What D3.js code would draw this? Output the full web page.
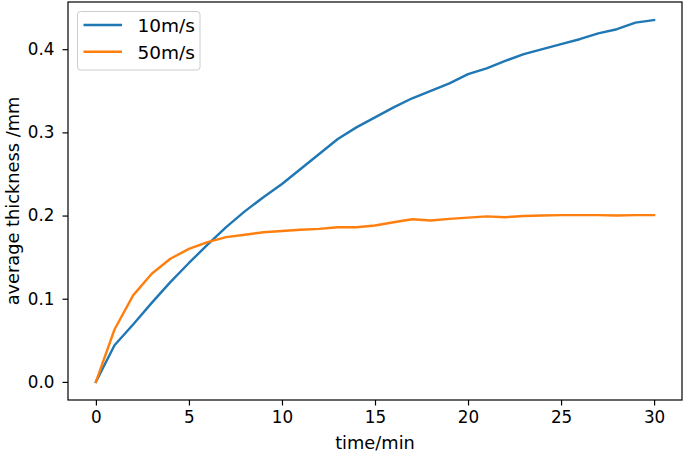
<!DOCTYPE html>
<html><head><meta charset="utf-8">
<script src="https://cdn.jsdelivr.net/npm/d3@7"></script>
<style>body{margin:0;background:#fff}svg{display:block}text{font-family:"DejaVu Sans",sans-serif}</style>
</head><body>
<svg id="c" width="685" height="455"></svg>
<script>
const time = d3.range(0, 31);
const v10 = [0, 0.044, 0.069, 0.095, 0.120, 0.143, 0.165, 0.186, 0.205, 0.222, 0.238, 0.256, 0.274, 0.292, 0.306, 0.318, 0.330, 0.341, 0.350, 0.359, 0.370, 0.377, 0.386, 0.394, 0.400, 0.406, 0.412, 0.419, 0.424, 0.432, 0.435];
const v50 = [0, 0.063, 0.104, 0.130, 0.148, 0.160, 0.168, 0.174, 0.177, 0.180, 0.1815, 0.183, 0.184, 0.186, 0.186, 0.188, 0.192, 0.1955, 0.194, 0.196, 0.1975, 0.199, 0.198, 0.1995, 0.2, 0.2005, 0.2005, 0.2005, 0.2, 0.2005, 0.2005];
const seriesNames = ["10m/s", "50m/s"];
const colors = ["#1f77b4", "#ff7f0e"];
const xTicks = [0, 5, 10, 15, 20, 25, 30];
const yTicks = [0.0, 0.1, 0.2, 0.3, 0.4];
const xLabel = "time/min";
const yLabel = "average thickness /mm";

const svg = d3.select("#c");
const L = 68, R = 682, T = 2, B = 400;
const allV = v10.concat(v50);
const ymin = d3.min(allV), ymax = d3.max(allV);
const ym = (ymax - ymin) * 0.05;
const x = d3.scaleLinear().domain([-1.5, 31.5]).range([L, R]);
const y = d3.scaleLinear().domain([ymin - ym, ymax + ym]).range([B, T]);

// lines
const line = d3.line().x((d, i) => x(time[i])).y(d => y(d));
[v10, v50].forEach((s, k) => {
  svg.append("path").datum(s).attr("d", line).attr("fill", "none")
    .attr("stroke", colors[k]).attr("stroke-width", 2.4)
    .attr("stroke-linejoin", "round").attr("stroke-linecap", "square");
});

// axes
const xAxis = svg.append("g").attr("transform", `translate(0,${B})`)
  .call(d3.axisBottom(x).tickValues(xTicks).tickFormat(d3.format("d")).tickSize(5.5).tickPadding(6));
const yAxis = svg.append("g").attr("transform", `translate(${L},0)`)
  .call(d3.axisLeft(y).tickValues(yTicks).tickFormat(d3.format(".1f")).tickSize(5.5).tickPadding(8));
[xAxis, yAxis].forEach(g => {
  g.select(".domain").remove();
  g.selectAll(".tick line").attr("stroke", "#000").attr("stroke-width", 1.2);
  g.selectAll(".tick text").attr("font-size", 16.8).attr("fill", "#000")
    .attr("font-family", "DejaVu Sans, sans-serif");
});

// frame
svg.append("rect").attr("x", L).attr("y", T).attr("width", R - L).attr("height", B - T)
  .attr("fill", "none").attr("stroke", "#000").attr("stroke-width", 1.2);

// axis labels
svg.append("text").attr("x", (L + R) / 2).attr("y", 449).attr("text-anchor", "middle")
  .attr("font-size", 17.8).text(xLabel);
svg.append("text").attr("transform", `translate(18.5,${(T + B) / 2}) rotate(-90)`)
  .attr("text-anchor", "middle").attr("font-size", 17.8).text(yLabel);

// legend
const lg = svg.append("g");
lg.append("rect").attr("x", 77.5).attr("y", 11.5).attr("width", 122.5).attr("height", 58.5)
  .attr("rx", 3).attr("fill", "#fff").attr("fill-opacity", 0.8)
  .attr("stroke", "#cccccc").attr("stroke-width", 1);
seriesNames.forEach((n, k) => {
  const yy = 25 + k * 26.7;
  lg.append("line").attr("x1", 83.5).attr("x2", 122).attr("y1", yy).attr("y2", yy)
    .attr("stroke", colors[k]).attr("stroke-width", 2.4);
  lg.append("text").attr("x", 137.5).attr("y", yy + 7).attr("font-size", 18.5).text(n);
});
</script>
</body></html>
